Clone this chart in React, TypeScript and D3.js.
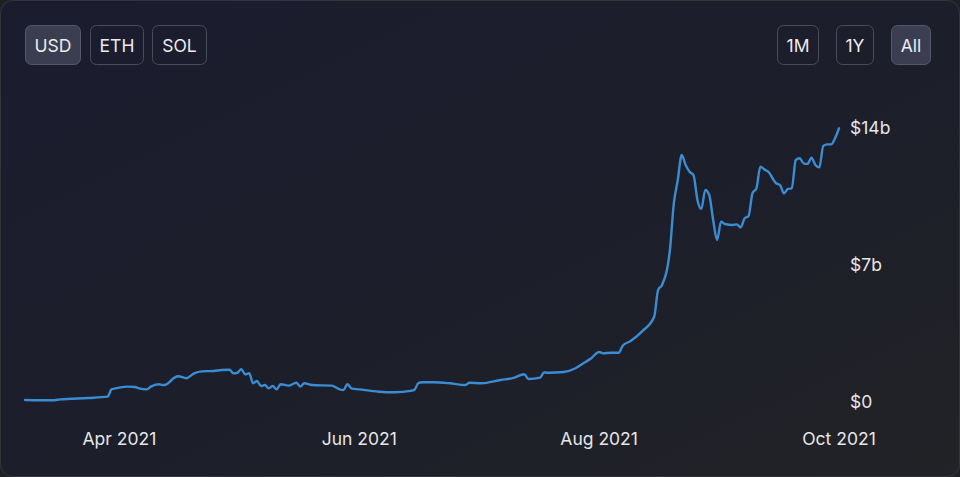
import React from "react";
import * as d3 from "d3";

const dates: string[] = [
  "2021-03-08","2021-03-15","2021-03-17","2021-03-24","2021-03-29","2021-03-30","2021-03-31",
  "2021-04-03","2021-04-05","2021-04-06","2021-04-08","2021-04-09","2021-04-11","2021-04-12","2021-04-13",
  "2021-04-15","2021-04-16","2021-04-18","2021-04-20","2021-04-22","2021-04-25","2021-04-27","2021-04-29","2021-04-30",
  "2021-05-01","2021-05-02","2021-05-03","2021-05-04","2021-05-05","2021-05-06","2021-05-07","2021-05-08","2021-05-09",
  "2021-05-10","2021-05-11","2021-05-12","2021-05-14","2021-05-16","2021-05-17","2021-05-18","2021-05-20","2021-05-25",
  "2021-05-27","2021-05-28","2021-05-29","2021-05-30",
  "2021-06-01","2021-06-06","2021-06-10","2021-06-14","2021-06-15","2021-06-16","2021-06-17","2021-06-20","2021-06-24",
  "2021-06-28","2021-06-29",
  "2021-07-02","2021-07-07","2021-07-10","2021-07-13","2021-07-14","2021-07-17","2021-07-18","2021-07-19","2021-07-23",
  "2021-07-26","2021-07-28","2021-07-30",
  "2021-08-01","2021-08-02","2021-08-04","2021-08-06","2021-08-07","2021-08-09","2021-08-12","2021-08-15","2021-08-16",
  "2021-08-17","2021-08-19","2021-08-20","2021-08-21","2021-08-22","2021-08-23","2021-08-24","2021-08-25","2021-08-26",
  "2021-08-27","2021-08-28","2021-08-29","2021-08-30","2021-08-31",
  "2021-09-01","2021-09-02","2021-09-04","2021-09-05","2021-09-06","2021-09-07","2021-09-08","2021-09-09","2021-09-10",
  "2021-09-11","2021-09-12","2021-09-13","2021-09-15","2021-09-16","2021-09-17","2021-09-18","2021-09-19","2021-09-20",
  "2021-09-21","2021-09-22","2021-09-23","2021-09-24","2021-09-25","2021-09-26","2021-09-27","2021-09-28","2021-09-29",
  "2021-09-30","2021-10-01",
];

// TVL in billions USD
const values: number[] = [
  0.07,0.05,0.10,0.17,0.24,0.61,0.66,
  0.75,0.73,0.66,0.61,0.75,0.87,0.83,0.87,
  1.21,1.28,1.18,1.43,1.53,1.55,1.60,1.61,1.43,
  1.46,1.64,1.38,1.43,0.92,1.04,0.78,0.83,0.66,
  0.78,0.61,0.87,0.80,0.95,0.75,0.92,0.83,0.80,
  0.61,0.58,0.88,0.66,
  0.61,0.49,0.46,0.53,0.58,0.92,0.97,0.97,0.92,
  0.83,0.95,
  0.92,1.09,1.18,1.38,1.14,1.21,1.48,1.46,1.50,
  1.69,1.94,2.20,
  2.52,2.45,2.48,2.48,2.84,3.08,3.59,4.32,5.69,
  5.94,7.73,10.12,11.31,12.59,12.07,11.73,11.56,10.29,
  9.83,10.80,10.54,9.26,8.24,
  9.18,9.06,9.01,9.04,8.89,9.35,9.47,10.63,10.88,
  11.99,11.85,11.73,11.14,11.05,10.63,10.85,10.88,12.33,
  12.42,12.16,12.13,12.45,12.07,11.95,13.05,13.13,13.13,
  13.44,13.95,
];

const xTickDates: string[] = ["2021-04-01", "2021-06-01", "2021-08-01", "2021-10-01"];
const xTickLabels: string[] = ["Apr 2021", "Jun 2021", "Aug 2021", "Oct 2021"];
const yTicks: number[] = [0, 7, 14];
const yTickLabels: string[] = ["$0", "$7b", "$14b"];
const currencyButtons: string[] = ["USD", "ETH", "SOL"];
const rangeButtons: string[] = ["1M", "1Y", "All"];

const W = 960;
const H = 477;
const FONT = "Inter, 'Noto Sans', sans-serif";

export default function App() {
  const parse = d3.timeParse("%Y-%m-%d");
  const data = dates.map((d, i) => ({ date: parse(d) as Date, value: values[i] }));

  const x = d3
    .scaleTime()
    .domain(d3.extent(data, (d) => d.date) as [Date, Date])
    .range([25, 839]);
  const y = d3.scaleLinear().domain([0, 14]).range([401.3, 127.3]);

  const line = d3
    .line<{ date: Date; value: number }>()
    .x((d) => x(d.date))
    .y((d) => y(d.value))
    .curve(d3.curveMonotoneX);

  const leftBtns = [
    { x: 25, w: 56 },
    { x: 90, w: 54 },
    { x: 152, w: 55 },
  ];
  const rightBtns = [
    { x: 777, w: 42 },
    { x: 836, w: 38 },
    { x: 891, w: 40 },
  ];

  const btn = (label: string, bx: number, bw: number, selected: boolean, key: string) => (
    <g key={key}>
      <rect
        x={bx + 0.5}
        y={25.5}
        width={bw - 1}
        height={39}
        rx={6}
        fill={selected ? "#3b3e50" : "none"}
        stroke={selected ? "#555869" : "#4a4c58"}
        strokeWidth={1}
      />
      <text
        x={bx + bw / 2}
        y={45.5}
        textAnchor="middle"
        dominantBaseline="central"
        fill="#ececef"
        fontSize={17.5}
        fontFamily={FONT}
      >
        {label}
      </text>
    </g>
  );

  return (
    <svg
      width={W}
      height={H}
      style={{ position: "absolute", left: 0, top: 0, display: "block" }}
    >
      <defs>
        <linearGradient id="bg" x1="0" y1="0" x2="1" y2="1">
          <stop offset="0%" stopColor="#1b1d2f" />
          <stop offset="55%" stopColor="#1c1e2a" />
          <stop offset="100%" stopColor="#222326" />
        </linearGradient>
      </defs>
      <rect x={0} y={0} width={W} height={H} fill="#1f2024" />
      <rect
        x={0.5}
        y={0.5}
        width={W - 1}
        height={H - 1}
        rx={12}
        fill="url(#bg)"
        stroke="#34353b"
        strokeWidth={1}
      />

      {currencyButtons.map((b, i) => btn(b, leftBtns[i].x, leftBtns[i].w, i === 0, "c" + i))}
      {rangeButtons.map((b, i) => btn(b, rightBtns[i].x, rightBtns[i].w, i === 2, "r" + i))}

      <path
        d={line(data) || ""}
        fill="none"
        stroke="#3a8dd3"
        strokeWidth={2.4}
        strokeLinejoin="round"
        strokeLinecap="round"
      />

      {yTicks.map((t, i) => (
        <text
          key={"y" + i}
          x={850}
          y={y(t)}
          dominantBaseline="central"
          fill="#e6e6e8"
          fontSize={17.5}
          fontFamily={FONT}
        >
          {yTickLabels[i]}
        </text>
      ))}

      {xTickDates.map((d, i) => (
        <text
          key={"x" + i}
          x={x(parse(d) as Date)}
          y={438}
          textAnchor="middle"
          dominantBaseline="central"
          fill="#e6e6e8"
          fontSize={17.5}
          fontFamily={FONT}
        >
          {xTickLabels[i]}
        </text>
      ))}
    </svg>
  );
}
